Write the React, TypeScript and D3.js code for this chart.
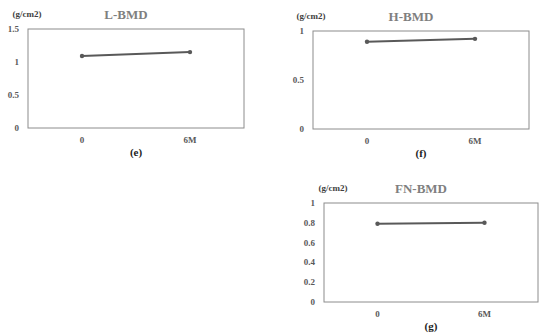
import React, { useEffect, useRef } from 'react';
import * as d3 from 'd3';

const categories = ['0', '6M'];
const lValues = [1.09, 1.15];
const hValues = [0.89, 0.92];
const fnValues = [0.79, 0.8];
const lTicks = [0, 0.5, 1, 1.5];
const hTicks = [0, 0.5, 1];
const fnTicks = [0, 0.2, 0.4, 0.6, 0.8, 1];

type Panel = {
  title: string;
  letter: string;
  values: number[];
  ticks: number[];
  unitX: number;
  box: { x0: number; x1: number; y0: number; y1: number };
};

const panels: Panel[] = [
  { title: 'L-BMD', letter: '(e)', values: lValues, ticks: lTicks, unitX: 27, box: { x0: 28, x1: 244, y0: 29, y1: 128 } },
  { title: 'H-BMD', letter: '(f)', values: hValues, ticks: hTicks, unitX: 311, box: { x0: 313, x1: 529, y0: 31, y1: 129 } },
  { title: 'FN-BMD', letter: '(g)', values: fnValues, ticks: fnTicks, unitX: 333, box: { x0: 324, x1: 538, y0: 203, y1: 302 } },
];

const font = '"Liberation Serif", "Times New Roman", serif';

const App = () => {
  const ref = useRef<SVGSVGElement>(null);

  useEffect(() => {
    const svg = d3.select(ref.current);
    svg.selectAll('*').remove();

    panels.forEach((p) => {
      const { x0, x1, y0, y1 } = p.box;
      const g = svg.append('g');

      const x = d3.scalePoint<string>().domain(categories).range([x0, x1]).padding(0.5);
      const y = d3.scaleLinear().domain([0, d3.max(p.ticks) as number]).range([y1, y0]);

      // frame
      g.append('rect')
        .attr('x', x0)
        .attr('y', y0)
        .attr('width', x1 - x0)
        .attr('height', y1 - y0)
        .attr('fill', 'none')
        .attr('stroke', '#8c8c8c')
        .attr('stroke-width', 1);

      // y ticks
      g.selectAll('.yt')
        .data(p.ticks)
        .enter()
        .append('text')
        .attr('x', x0 - 9)
        .attr('y', (d) => y(d) + 3)
        .attr('text-anchor', 'end')
        .attr('font-family', font)
        .attr('font-weight', 'bold')
        .attr('font-size', 9)
        .attr('fill', '#595959')
        .text((d) => String(d));

      // x labels
      g.selectAll('.xt')
        .data(categories)
        .enter()
        .append('text')
        .attr('x', (d) => x(d) as number)
        .attr('y', y1 + 15)
        .attr('text-anchor', 'middle')
        .attr('font-family', font)
        .attr('font-weight', 'bold')
        .attr('font-size', 9)
        .attr('fill', '#595959')
        .text((d) => d);

      // line
      const line = d3
        .line<number>()
        .x((_, i) => x(categories[i]) as number)
        .y((d) => y(d));
      g.append('path')
        .datum(p.values)
        .attr('d', line)
        .attr('fill', 'none')
        .attr('stroke', '#595959')
        .attr('stroke-width', 2);

      g.selectAll('circle')
        .data(p.values)
        .enter()
        .append('circle')
        .attr('cx', (_, i) => x(categories[i]) as number)
        .attr('cy', (d) => y(d))
        .attr('r', 2.2)
        .attr('fill', '#595959');

      // title and unit
      g.append('text')
        .attr('x', (x0 + x1) / 2 - 10)
        .attr('y', y0 - 10)
        .attr('text-anchor', 'middle')
        .attr('font-family', font)
        .attr('font-weight', 'bold')
        .attr('font-size', 13)
        .attr('fill', '#7f7f7f')
        .text(p.title);

      g.append('text')
        .attr('x', p.unitX)
        .attr('y', y0 - 12)
        .attr('text-anchor', 'middle')
        .attr('font-family', font)
        .attr('font-weight', 'bold')
        .attr('font-size', 9)
        .attr('fill', '#404040')
        .text('(g/cm2)');

      // panel letter
      g.append('text')
        .attr('x', (x0 + x1) / 2)
        .attr('y', y1 + 28)
        .attr('text-anchor', 'middle')
        .attr('font-family', font)
        .attr('font-weight', 'bold')
        .attr('font-size', 11)
        .attr('fill', '#222')
        .text(p.letter);
    });
  });

  return (
    <svg
      ref={ref}
      width={550}
      height={334}
      style={{ position: 'absolute', left: 0, top: 0, background: '#fff' }}
    ></svg>
  );
};

export default App;
